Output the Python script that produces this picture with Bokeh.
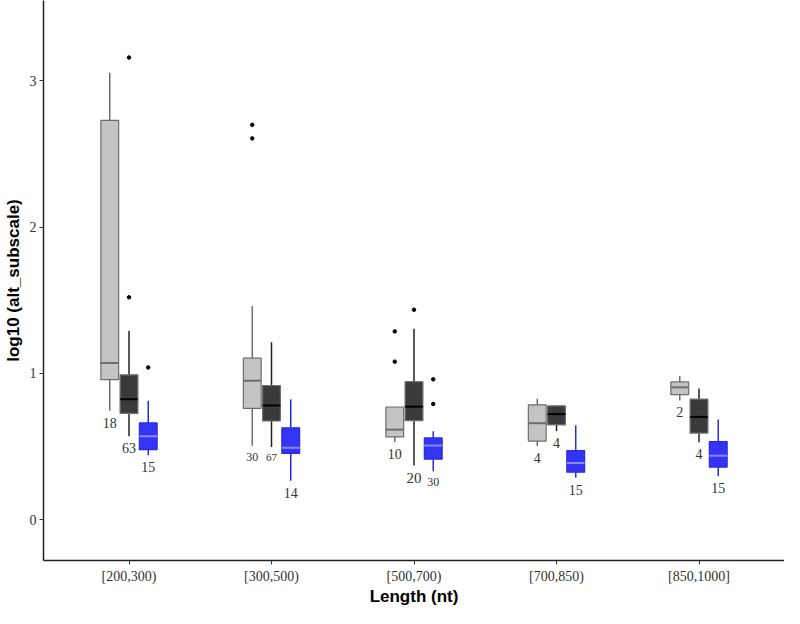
from bokeh.plotting import figure
from bokeh.models import Range1d, FixedTicker, ColumnDataSource
from bokeh.core.properties import value
from bokeh.embed import file_html
from bokeh.resources import INLINE

# ---- data (log10 alt_subscale) ----
categories = ["[200,300)", "[300,500)", "[500,700)", "[700,850)", "[850,1000]"]

# grey series
grey_lo  = [0.744, 0.504, 0.530, 0.504, 0.815]
grey_q1  = [0.957, 0.761, 0.565, 0.537, 0.854]
grey_med = [1.070, 0.950, 0.615, 0.659, 0.904]
grey_q3  = [2.730, 1.104, 0.770, 0.785, 0.941]
grey_hi  = [3.056, 1.461, 0.770, 0.826, 0.982]
grey_n   = [18, 30, 10, 4, 2]
grey_out_x = [2, 2, 3, 3]
grey_out_y = [2.700, 2.607, 1.287, 1.080]

# dark series
dark_lo  = [0.570, 0.496, 0.369, 0.604, 0.528]
dark_q1  = [0.726, 0.674, 0.676, 0.648, 0.591]
dark_med = [0.822, 0.780, 0.772, 0.721, 0.702]
dark_q3  = [0.990, 0.917, 0.943, 0.778, 0.824]
dark_hi  = [1.290, 1.213, 1.305, 0.778, 0.896]
dark_n   = [63, 67, 20, 4, 4]
dark_out_x = [1, 1, 3]
dark_out_y = [3.160, 1.520, 1.435]

# blue series
blue_lo  = [0.440, 0.265, 0.330, 0.287, 0.297]
blue_q1  = [0.478, 0.452, 0.413, 0.324, 0.359]
blue_med = [0.570, 0.491, 0.506, 0.387, 0.437]
blue_q3  = [0.661, 0.628, 0.558, 0.471, 0.533]
blue_hi  = [0.813, 0.822, 0.604, 0.645, 0.685]
blue_n   = [15, 14, 30, 15, 15]
blue_out_x = [1, 3, 3]
blue_out_y = [1.040, 0.959, 0.791]

# label font sizes (style only)
grey_lbl_size = ["14px", "12px", "14px", "14px", "14px"]
dark_lbl_size = ["14px", "11px", "15px", "14px", "14px"]
blue_lbl_size = ["14px", "14px", "12px", "14px", "14px"]

p = figure(width=784, height=608, output_backend="svg", toolbar_location=None,
           x_range=Range1d(0.4, 5.6), y_range=Range1d(-0.28, 3.55),
           min_border_top=0, min_border_right=0, min_border_left=2, min_border_bottom=0)
p.background_fill_color = "white"
p.border_fill_color = "white"
p.outline_line_color = None
p.xgrid.grid_line_color = None
p.ygrid.grid_line_color = None

p.xaxis.ticker = FixedTicker(ticks=[1, 2, 3, 4, 5])
p.xaxis.major_label_overrides = {i + 1: c for i, c in enumerate(categories)}
p.yaxis.ticker = FixedTicker(ticks=[0, 1, 2, 3])
for ax in (p.xaxis[0], p.yaxis[0]):
    ax.axis_line_color = "#222222"
    ax.axis_line_width = 1.5
    ax.major_tick_line_color = "#333333"
    ax.major_tick_out = 4
    ax.major_tick_in = 0
    ax.minor_tick_line_color = None
    ax.major_label_text_font = "Liberation Serif"
    ax.major_label_text_font_size = "14px"
    ax.major_label_text_color = "#333333"
    ax.axis_label_text_font = "Liberation Sans"
    ax.axis_label_text_font_style = "bold"
    ax.axis_label_text_font_size = "17px"
    ax.axis_label_text_color = "black"
p.xaxis.axis_label = "Length (nt)"
p.yaxis.axis_label = "log10 (alt_subscale)"
p.xaxis.axis_label_standoff = 0
p.yaxis.axis_label_standoff = 4
p.xaxis.major_label_standoff = 4
p.yaxis.major_label_standoff = 3

off = 0.135
bw = 0.125
series = [
    (-off, grey_lo, grey_q1, grey_med, grey_q3, grey_hi, grey_n, grey_out_x, grey_out_y, grey_lbl_size,
     "#c4c4c4", "#6e6e6e", "#6e6e6e", "#6e6e6e"),
    (0.0, dark_lo, dark_q1, dark_med, dark_q3, dark_hi, dark_n, dark_out_x, dark_out_y, dark_lbl_size,
     "#3a3a3a", "#707070", "#222222", "#000000"),
    (off, blue_lo, blue_q1, blue_med, blue_q3, blue_hi, blue_n, blue_out_x, blue_out_y, blue_lbl_size,
     "#3434f4", "#2a2ae0", "#2a2ae0", "#8a8aff"),
]

for (dx, lo, q1, med, q3, hi, n, ox, oy, lsz, fill, edge, wcol, mcol) in series:
    xs = [i + 1 + dx for i in range(len(categories))]
    src = ColumnDataSource(dict(x=xs, lo=lo, q1=q1, med=med, q3=q3, hi=hi,
                                n=[str(v) for v in n], size=lsz))
    p.segment(x0="x", y0="q3", x1="x", y1="hi", source=src, line_color=wcol, line_width=1.5)
    p.segment(x0="x", y0="lo", x1="x", y1="q1", source=src, line_color=wcol, line_width=1.5)
    p.vbar(x="x", width=bw, top="q3", bottom="q1", source=src,
           fill_color=fill, line_color=edge, line_width=1.2)
    p.rect(x="x", y="med", width=bw, height=2, height_units="screen", source=src,
           fill_color=mcol, line_color=None)
    p.scatter(x=[v + dx for v in ox], y=oy, size=3.5, color="black")
    p.text(x="x", y="lo", text="n", source=src, text_align="center", text_baseline="top",
           y_offset=7, text_font=value("Liberation Serif"), text_font_size="size",
           text_color="#333333")

open("out.html", "w").write(file_html(p, INLINE))
